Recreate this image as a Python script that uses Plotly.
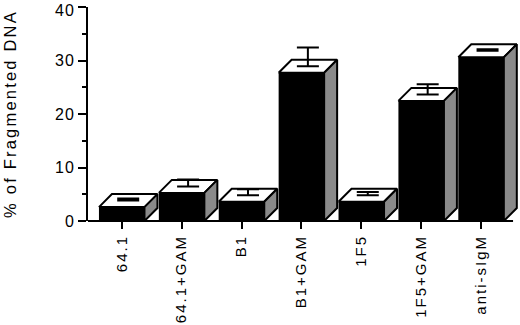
import plotly.graph_objects as go

# ---- data ----
categories = ["64.1", "64.1+GAM", "B1", "B1+GAM", "1F5", "1F5+GAM", "anti-sIgM"]
fragmented_dna = [2.6, 5.25, 3.6, 27.7, 3.6, 22.45, 30.6]
error_plus = [0.4, 1.3, 1.1, 3.5, 0.6, 1.9, 0.3]
y_ticks = [0, 10, 20, 30, 40]

# ---- style constants ----
BAR_W = 0.76          # bar width in category units
DEPTH_X = 13 / 60.0   # 3D depth offset (category units)
DEPTH_Y = 13 / 5.35   # 3D depth offset (value units)
SIDE_GRAY = "#8a8a8a"
FONT = "Liberation Sans, Arial, sans-serif"

idx = list(range(len(categories)))

fig = go.Figure()

# front faces
fig.add_trace(go.Bar(x=idx, y=fragmented_dna, width=BAR_W,
                     marker=dict(color="black", line=dict(width=0)),
                     hoverinfo="skip"))

# top faces
tx, ty = [], []
for x, v in zip(idx, fragmented_dna):
    l, r = x - BAR_W / 2, x + BAR_W / 2
    tx += [l, r, r + DEPTH_X, l + DEPTH_X, l, None]
    ty += [v, v, v + DEPTH_Y, v + DEPTH_Y, v, None]
fig.add_trace(go.Scatter(x=tx, y=ty, mode="lines", fill="toself",
                         fillcolor="white", line=dict(color="black", width=2),
                         hoverinfo="skip"))

# side faces
sx, sy = [], []
for x, v in zip(idx, fragmented_dna):
    r = x + BAR_W / 2
    sx += [r, r, r + DEPTH_X, r + DEPTH_X, r, None]
    sy += [0, v, v + DEPTH_Y, DEPTH_Y, 0, None]
fig.add_trace(go.Scatter(x=sx, y=sy, mode="lines", fill="toself",
                         fillcolor=SIDE_GRAY, line=dict(color="black", width=2),
                         hoverinfo="skip"))

# error bars from centre of top face
fig.add_trace(go.Scatter(
    x=[x + DEPTH_X / 2 for x in idx],
    y=[v + DEPTH_Y / 2 for v in fragmented_dna],
    mode="markers", marker=dict(size=0.1, color="black"),
    error_y=dict(type="data", symmetric=False, array=error_plus,
                 arrayminus=[0] * len(idx), color="black", thickness=2, width=11),
    hoverinfo="skip"))

x_left = -0.563
x_axis_end = 6.534
fig.add_shape(type="line", xref="x", yref="paper", x0=x_left, x1=x_axis_end,
              y0=0, y1=0, line=dict(color="black", width=2))

fig.update_layout(
    width=520, height=325,
    margin=dict(l=88, r=0, t=7, b=104, autoexpand=False),
    paper_bgcolor="white", plot_bgcolor="white",
    showlegend=False, hovermode=False,
    font=dict(family=FONT, size=16, color="black"),
    xaxis=dict(range=[x_left, 6.65], showline=False, showgrid=False, zeroline=False,
               automargin=False, ticklabeloverflow="allow",
               tickmode="array", tickvals=idx, ticktext=categories, tickangle=-90,
               ticks="outside", ticklen=7, tickwidth=2, tickcolor="black",
               tickfont=dict(size=15)),
    yaxis=dict(range=[0, 40], showline=True, linewidth=2, linecolor="black",
               showgrid=False, zeroline=False, automargin=False,
               ticklabeloverflow="allow",
               tickmode="array", tickvals=y_ticks,
               ticks="outside", ticklen=8, tickwidth=2, tickcolor="black",
               minor=dict(dtick=5, ticks="outside", ticklen=4, tickwidth=2,
                          tickcolor="black", showgrid=False),
               tickfont=dict(size=16),
               title=dict(text="% of Fragmented DNA", font=dict(size=16.5), standoff=36)),
)

post = ("document.body.style.margin='0';"
        "document.querySelectorAll('.xtick text').forEach("
        "function(t){t.setAttribute('letter-spacing','2px');});"
        "document.querySelectorAll('.ytick text').forEach("
        "function(t){t.setAttribute('letter-spacing','1px');"
        "if(t.textContent.trim()==='40'){t.setAttribute('dy','3');}});"
        "document.querySelectorAll('.ytitle').forEach("
        "function(t){t.setAttribute('letter-spacing','2.2px');});")
fig.write_html("out.html", post_script=post, config={"displayModeBar": False})
